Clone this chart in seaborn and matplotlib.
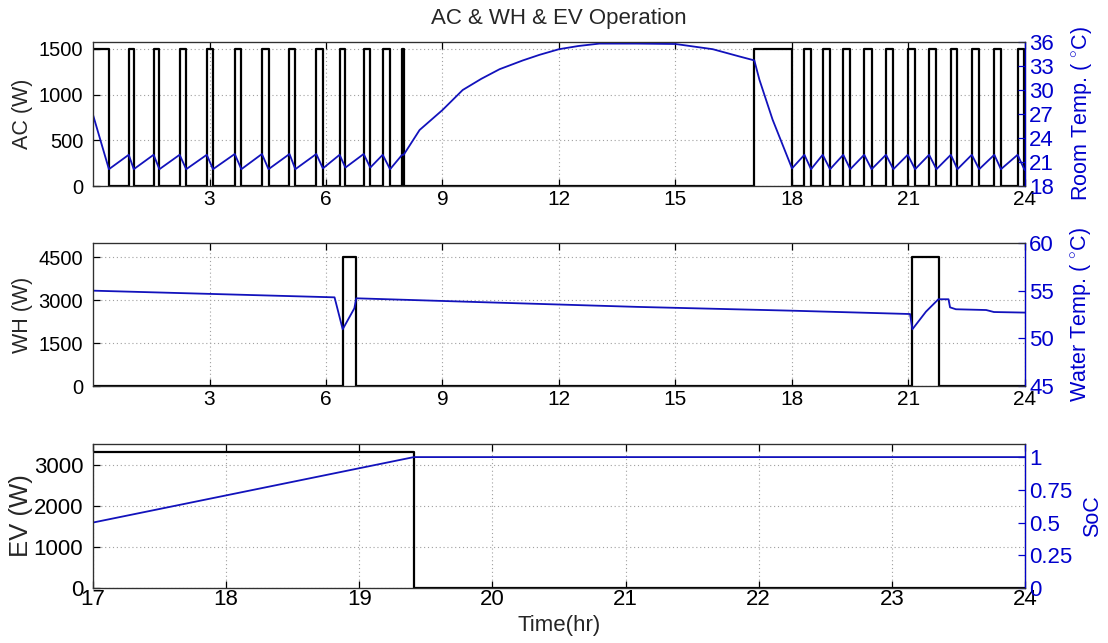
import numpy as np
import pandas as pd
import matplotlib
matplotlib.use("Agg")
import matplotlib.pyplot as plt
import seaborn as sns

# ---------------- data ----------------
# AC on-periods (hours) and rated power
ac_on_hr = [0.00, 0.92, 1.56, 2.23, 2.93, 3.65, 4.35, 5.06, 5.75, 6.35, 6.97, 7.46, 7.96,
            17.03, 18.32, 18.79, 19.32, 19.86, 20.42, 20.98, 21.53, 22.09, 22.63, 23.21, 23.81]
ac_off_hr = [0.41, 1.05, 1.71, 2.40, 3.09, 3.82, 4.52, 5.21, 5.92, 6.50, 7.14, 7.65, 8.00,
             18.00, 18.49, 18.98, 19.50, 20.05, 20.61, 21.17, 21.72, 22.26, 22.82, 23.38, 23.98]
ac_power_w = 1500

# Room temperature (deg C)
room_hr = [0.00, 0.41, 0.92, 1.05, 1.56, 1.71, 2.23, 2.40, 2.93, 3.09, 3.65, 3.82, 4.35, 4.52,
           5.06, 5.21, 5.75, 5.92, 6.35, 6.50, 6.97, 7.14, 7.46, 7.65, 7.96, 8.00,
           8.41, 9.00, 9.52, 10.00, 10.47, 11.07, 11.50, 12.00, 12.50, 13.04, 14.00, 15.00,
           15.96, 16.64, 17.03, 17.16, 17.50, 18.00,
           18.32, 18.49, 18.79, 18.98, 19.32, 19.50, 19.86, 20.05, 20.42, 20.61, 20.98, 21.17,
           21.53, 21.72, 22.09, 22.26, 22.63, 22.82, 23.21, 23.38, 23.81, 23.98, 24.00]
room_c = [26.9, 20.1, 21.9, 20.1, 21.9, 20.1, 21.9, 20.1, 21.9, 20.1, 22.0, 20.1, 22.0, 20.1,
          22.0, 20.1, 22.0, 20.2, 21.9, 20.3, 22.0, 20.3, 21.9, 20.1, 21.9, 21.9,
          25.0, 27.5, 30.0, 31.4, 32.6, 33.7, 34.4, 35.1, 35.5, 35.8, 35.8, 35.75,
          35.1, 34.2, 33.7, 31.3, 26.3, 20.2,
          21.9, 20.1, 21.9, 20.1, 21.9, 20.1, 21.9, 20.1, 21.9, 20.1, 21.9, 20.1,
          21.9, 20.1, 21.9, 20.1, 21.9, 20.1, 21.9, 20.1, 21.9, 20.1, 20.0]

# Water heater on-periods and rated power
wh_on_hr = [6.43, 21.10]
wh_off_hr = [6.76, 21.79]
wh_power_w = 4500

# Water temperature (deg C)
water_hr = [0.00, 6.22, 6.43, 6.73, 6.78, 9.95, 14.00, 18.00, 21.04, 21.10, 21.45, 21.77,
            22.03, 22.07, 22.22, 23.00, 23.20, 24.00]
water_c = [55.0, 54.3, 50.95, 53.15, 54.2, 53.8, 53.3, 52.9, 52.55, 50.95, 52.8, 54.1,
           54.1, 53.25, 53.05, 52.97, 52.76, 52.7]

# EV charging power and state of charge
ev_hr = [17.00, 19.41, 24.00]
ev_w = [3300, 0, 0]
soc_hr = [17.00, 19.41, 24.00]
soc = [0.50, 1.00, 1.00]

# ---------------- style ----------------
sns.set_style("white")
plt.rcParams["font.family"] = ["Liberation Sans", "DejaVu Sans"]
plt.rcParams["mathtext.fontset"] = "custom"
plt.rcParams["mathtext.rm"] = "Liberation Sans"
plt.rcParams["axes.edgecolor"] = "#303030"

BLUE_LINE = "#1212bc"
BLUE_TXT = "#0000cc"
BLACK = "#000000"


def step_frame(on, off, level, start, end):
    t, p = [], []
    if on[0] > start:
        t.append(start); p.append(0)
    for a, b in zip(on, off):
        t += [a, b]
        p += [level, 0]
    t.append(end); p.append(0)
    return pd.DataFrame({"hr": t, "w": p})


ac_df = step_frame(ac_on_hr, ac_off_hr, ac_power_w, 0, 24)
wh_df = step_frame(wh_on_hr, wh_off_hr, wh_power_w, 0, 24)
ev_df = pd.DataFrame({"hr": ev_hr, "w": ev_w})
room_df = pd.DataFrame({"hr": room_hr, "c": room_c})
water_df = pd.DataFrame({"hr": water_hr, "c": water_c})
soc_df = pd.DataFrame({"hr": soc_hr, "soc": soc})

fig = plt.figure(figsize=(11.08, 6.43), dpi=100)
L, W = 93 / 1108, 932 / 1108
ax_top = fig.add_axes([L, 1 - 186 / 643, W, 144 / 643])
ax_mid = fig.add_axes([L, 1 - 386 / 643, W, 143 / 643])
ax_bot = fig.add_axes([L, 1 - 588 / 643, W, 144 / 643])


def style_axes(ax, ax2, xlim, xticks, ylim, yticks, y2lim, y2ticks, y2labels, ylabel, y2label,
               fs_x, fs_y, fs_y2, fs_lab, fs_lab2, y2x):
    ax.set_xlim(*xlim)
    ax.set_xticks(xticks)
    ax.set_ylim(*ylim)
    ax.set_yticks(yticks)
    ax.grid(True, linestyle=(0, (1, 2.5)), color="#a0a0a0", linewidth=0.8)
    ax.tick_params(axis="both", direction="in", length=5, width=0.9, colors=BLACK,
                   top=True, left=True, bottom=True)
    ax.tick_params(axis="y", pad=7, labelsize=fs_y)
    ax.tick_params(axis="x", pad=3, labelsize=fs_x)
    ax.set_xlabel("")
    ax.set_ylabel(ylabel, fontsize=fs_lab)
    ax.yaxis.set_label_coords(-0.064, 0.5)
    for s in ax.spines.values():
        s.set_linewidth(0.9)
        s.set_color("#303030")
    ax2.set_ylim(*y2lim)
    ax2.set_yticks(y2ticks)
    ax2.set_yticklabels(y2labels)
    ax2.tick_params(axis="y", direction="in", length=5, width=0.9, colors=BLUE_TXT,
                    labelsize=fs_y2, pad=3)
    ax2.spines["right"].set_color(BLUE_TXT)
    ax2.spines["right"].set_linewidth(0.9)
    ax2.set_xlabel("")
    ax2.set_ylabel(y2label, fontsize=fs_lab2, color=BLUE_TXT)
    ax2.yaxis.set_label_coords(y2x, 0.5)
    ax2.grid(False)


# ---- top: AC ----
sns.lineplot(data=ac_df, x="hr", y="w", ax=ax_top, color=BLACK, linewidth=1.6,
             drawstyle="steps-post", estimator=None, sort=False)
ax_top2 = ax_top.twinx()
sns.lineplot(data=room_df, x="hr", y="c", ax=ax_top2, color=BLUE_LINE, linewidth=1.3,
             estimator=None, sort=False)
style_axes(ax_top, ax_top2, (0, 24), list(range(3, 25, 3)), (0, 1575), [0, 500, 1000, 1500],
           (18, 36), list(range(18, 37, 3)), [str(v) for v in range(18, 37, 3)],
           "AC (W)", "Room Temp. ( $^{\\circ}$C)", 15, 14.5, 16, 15.5, 15.5, 1.047)
ax_top.set_title("AC & WH & EV Operation", fontsize=16, pad=13)

# ---- middle: WH ----
sns.lineplot(data=wh_df, x="hr", y="w", ax=ax_mid, color=BLACK, linewidth=1.6,
             drawstyle="steps-post", estimator=None, sort=False)
ax_mid2 = ax_mid.twinx()
sns.lineplot(data=water_df, x="hr", y="c", ax=ax_mid2, color=BLUE_LINE, linewidth=1.3,
             estimator=None, sort=False)
style_axes(ax_mid, ax_mid2, (0, 24), list(range(3, 25, 3)), (0, 5000), [0, 1500, 3000, 4500],
           (45, 60), [45, 50, 55, 60], ["45", "50", "55", "60"],
           "WH (W)", "Water Temp. ( $^{\\circ}$C)", 15, 14.5, 16, 15.5, 15.5, 1.046)

# ---- bottom: EV ----
sns.lineplot(data=ev_df, x="hr", y="w", ax=ax_bot, color=BLACK, linewidth=1.6,
             drawstyle="steps-post", estimator=None, sort=False)
ax_bot2 = ax_bot.twinx()
sns.lineplot(data=soc_df, x="hr", y="soc", ax=ax_bot2, color=BLUE_LINE, linewidth=1.3,
             estimator=None, sort=False)
style_axes(ax_bot, ax_bot2, (17, 24), list(range(17, 25)), (0, 3500), [0, 1000, 2000, 3000],
           (0, 1.1), [0, 0.25, 0.5, 0.75, 1.0], ["0", "0.25", "0.5", "0.75", "1"],
           "EV (W)", "SoC", 16, 16, 16, 18.5, 15.5, 1.061)
ax_bot.tick_params(axis="x", pad=1)
ax_bot.set_xlabel("Time(hr)", fontsize=16)
ax_bot.xaxis.set_label_coords(0.5, -0.19)

fig.savefig("out.png", dpi=100)
